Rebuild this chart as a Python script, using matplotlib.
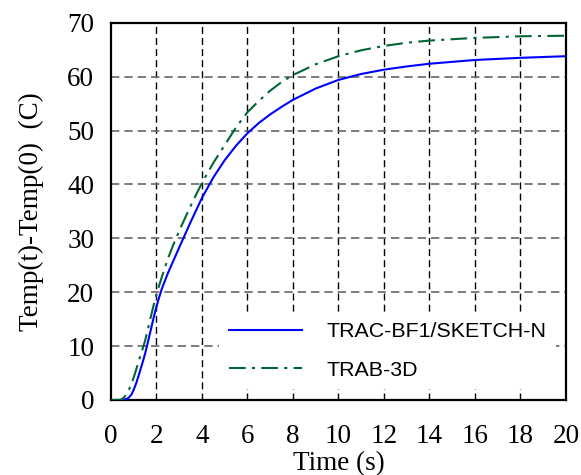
import matplotlib
matplotlib.use("Agg")
import matplotlib.pyplot as plt

# values
t_trac = [0, 0.5, 0.7, 0.8, 0.9, 1.0, 1.1, 1.2, 1.3, 1.4, 1.5, 1.6, 1.75, 1.9, 2.0, 2.1,
          2.25, 2.5, 2.75, 3.0, 3.5, 4.0, 4.5, 5.0, 5.5, 6.0, 6.5, 7, 7.5, 8, 9, 10, 11,
          12, 13, 14, 16, 18, 20]
temp_trac = [0, 0, 0.2, 0.5, 1.0, 1.9, 3.0, 4.3, 5.7, 7.1, 8.6, 10.3, 13.0, 15.7, 17.3, 18.8,
             20.8, 23.5, 25.9, 28.3, 33.0, 37.5, 41.3, 44.5, 47.2, 49.5, 51.4, 53.0, 54.4,
             55.7, 57.8, 59.4, 60.5, 61.3, 61.9, 62.4, 63.1, 63.5, 63.8]

t_trab = [0, 0.4, 0.5, 0.6, 0.7, 0.8, 0.9, 1.0, 1.1, 1.25, 1.4, 1.5, 1.6, 1.75, 1.9, 2.0,
          2.1, 2.25, 2.5, 2.75, 3.0, 3.5, 4.0, 4.5, 5.0, 5.5, 6.0, 6.5, 7, 7.5, 8, 9, 10,
          11, 12, 13, 14, 16, 18, 20]
temp_trab = [0, 0, 0.2, 0.6, 1.2, 2.0, 3.0, 4.2, 5.5, 7.6, 9.6, 11.0, 12.7, 15.4, 18.0, 19.6,
             21.0, 23.0, 26.2, 28.9, 31.4, 36.0, 40.3, 44.0, 47.3, 50.6, 53.4, 55.5, 57.4,
             59.0, 60.3, 62.3, 63.8, 64.9, 65.7, 66.3, 66.7, 67.2, 67.5, 67.6]

x_ticks = list(range(0, 21, 2))
y_ticks = list(range(0, 71, 10))

fig = plt.figure(figsize=(5.81, 4.75), dpi=100)
ax = fig.add_axes([0.191, 0.158, 0.783, 0.794])

# grid drawn by hand so horizontals and verticals can differ a bit
for xv in x_ticks[1:-1]:
    ax.axvline(xv, color="black", lw=1.0, ls=(0, (5, 3)), zorder=0)
for yv in y_ticks[1:-1]:
    ax.axhline(yv, color="0.4", lw=1.2, ls=(0, (5, 3)), zorder=0)

ax.plot(t_trac, temp_trac, color="#0000ff", lw=1.5, label="TRAC-BF1/SKETCH-N", zorder=3)
ax.plot(t_trab, temp_trab, color="#006633", lw=1.5, ls=(0, (8, 3, 1.5, 3)),
        label="TRAB-3D", zorder=3)

ax.set_xlim(0, 20)
ax.set_ylim(0, 70)
ax.set_xticks(x_ticks)
ax.set_yticks(y_ticks)
ax.tick_params(length=0, labelsize=19.5)
ax.tick_params(axis="x", pad=17)
ax.tick_params(axis="y", pad=12)
for lab in ax.get_xticklabels() + ax.get_yticklabels():
    lab.set_fontfamily("Liberation Serif")
for s in ax.spines.values():
    s.set_linewidth(1.6)

ax.set_xlabel("Time (s)", fontsize=19.5, fontfamily="Liberation Serif", labelpad=2)
ax.set_ylabel("Temp(t)-Temp(0)  (C)", fontsize=19.5, fontfamily="Liberation Serif", labelpad=17)

leg = ax.legend(loc="center", bbox_to_anchor=(0.608, 0.13), frameon=True, fancybox=False,
                framealpha=1, edgecolor="none", facecolor="white",
                prop={"family": "Liberation Sans", "size": 15.4},
                handlelength=3.4, handletextpad=1.15, labelspacing=0.9, borderpad=0.45)
leg.set_zorder(2)

fig.savefig("out.png", dpi=100)
